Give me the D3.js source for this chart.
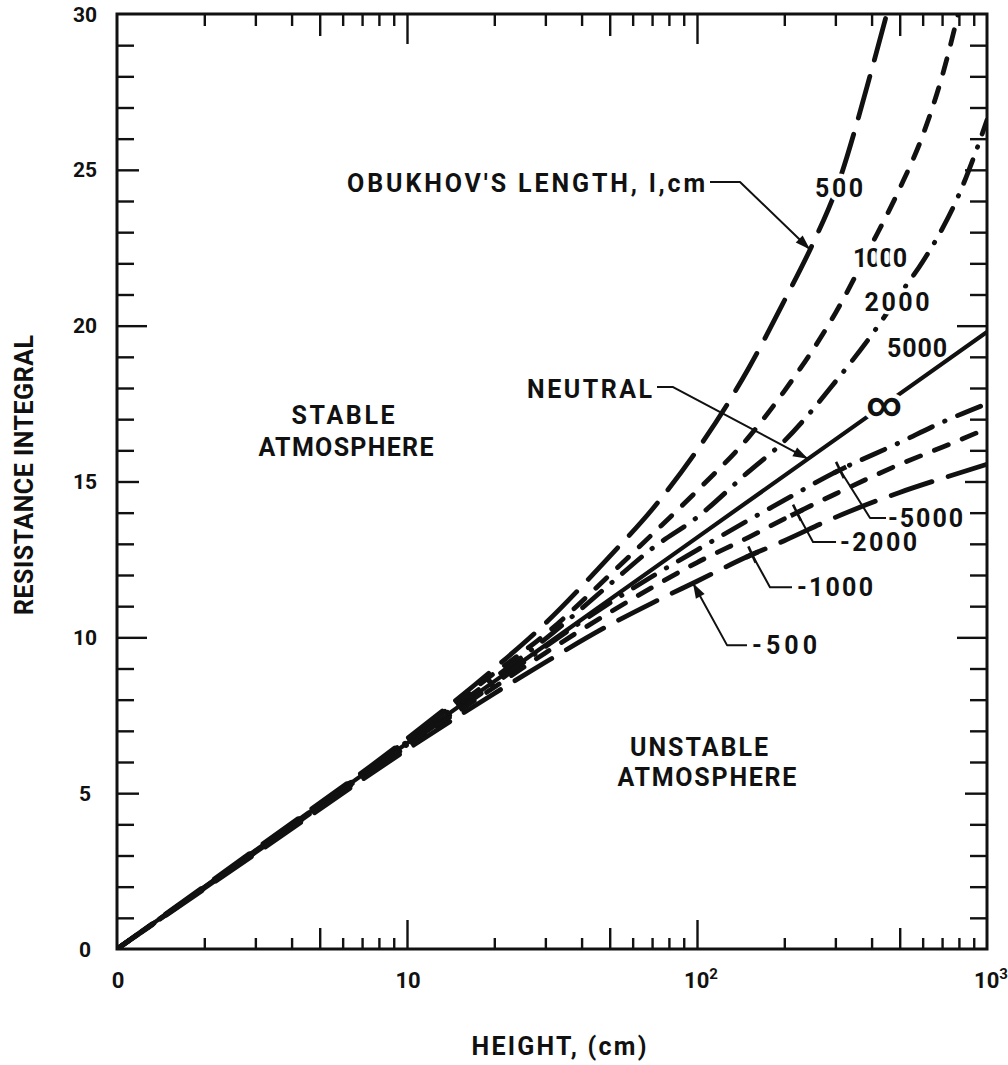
<!DOCTYPE html>
<html>
<head>
<meta charset="utf-8">
<script src="https://cdn.jsdelivr.net/npm/d3@7"></script>
<style>
  html, body { margin: 0; padding: 0; background: #fff; }
  svg { display: block; }
  text { font-family: Roboto, "DejaVu Sans", sans-serif; font-weight: 700; fill: #111; }
</style>
</head>
<body>
<svg id="chart" width="1008" height="1065"></svg>
<script>
// Resistance integral vs. height for several Obukhov lengths (cm)

// Stable atmosphere, L = 500 cm
const heights500 = [1, 3, 10, 20, 30, 50, 70, 100, 150, 200, 250, 300, 400, 460];
const resistance500 = [0, 3.2, 6.75, 9.0, 10.45, 12.6, 14.1, 16.0, 18.6, 20.8, 22.6, 24.3, 28.2, 30.3];

// Stable atmosphere, L = 1000 cm
const heights1000 = [1, 3, 10, 20, 30, 50, 70, 100, 150, 200, 300, 400, 500, 600, 700, 800];
const resistance1000 = [0, 3.15, 6.7, 8.85, 10.1, 12.0, 13.3, 14.7, 16.4, 17.9, 20.4, 22.6, 24.4, 26.1, 28.0, 30.1];

// Stable atmosphere, L = 2000 cm
const heights2000 = [1, 3, 10, 20, 30, 50, 70, 100, 150, 200, 300, 400, 500, 600, 700, 800, 900, 1000];
const resistance2000 = [0, 3.15, 6.65, 8.7, 9.95, 11.7, 12.85, 13.85, 15.3, 16.3, 18.2, 19.7, 21.0, 22.05, 23.1, 24.2, 25.4, 26.6];

// Neutral (L = infinity); L = 5000 cm runs along the same line
const heightsNeutral = [1, 10, 100, 1000];
const resistanceNeutral = [0, 6.6, 13.2, 19.8];

// Unstable atmosphere, L = -5000 cm
const heightsU5000 = [1, 3, 10, 20, 30, 50, 70, 100, 150, 200, 300, 500, 700, 1000];
const resistanceU5000 = [0, 3.1, 6.55, 8.5, 9.7, 11.1, 11.95, 12.8, 13.75, 14.4, 15.3, 16.25, 16.9, 17.5];

// Unstable atmosphere, L = -2000 cm
const heightsU2000 = [1, 3, 10, 20, 30, 50, 70, 100, 150, 200, 300, 500, 700, 1000];
const resistanceU2000 = [0, 3.1, 6.5, 8.4, 9.5, 10.8, 11.6, 12.4, 13.2, 13.8, 14.6, 15.55, 16.1, 16.7];

// Unstable atmosphere, L = -1000 / -500 cm
const heightsU1000 = [1, 3, 10, 20, 30, 50, 70, 100, 150, 200, 300, 500, 700, 1000];
const resistanceU1000 = [0, 3.05, 6.4, 8.2, 9.2, 10.4, 11.1, 11.8, 12.6, 13.1, 13.85, 14.65, 15.1, 15.55];

// Axis ticks
const xTickValues = [1, 10, 100, 1000];
const xTickBase = ["0", "10", "10", "10"];
const xTickExp = ["", "", "2", "3"];
const yTickValues = [0, 5, 10, 15, 20, 25, 30];

// ---------------------------------------------------------------
const svg = d3.select("#chart");
const W = 1008, H = 1065;
const plot = { left: 117, right: 987, top: 14, bottom: 949 };

const x = d3.scaleLog().domain([1, 1000]).range([plot.left, plot.right]);
const y = d3.scaleLinear().domain([0, 30]).range([plot.bottom, plot.top]);

svg.append("rect").attr("width", W).attr("height", H).attr("fill", "#fff");

const INK = "#111";

const dashes = {
  solid: null,
  long: "43,17",
  short: "15,15",
  dashDot: "25,13.5,0.5,13.5"
};

const curves = [
  { name: "500", h: heights500, v: resistance500, dash: dashes.long, w: 4.8 },
  { name: "1000", h: heights1000, v: resistance1000, dash: dashes.short, w: 4.8 },
  { name: "2000", h: heights2000, v: resistance2000, dash: dashes.dashDot, w: 4.8 },
  { name: "neutral", h: heightsNeutral, v: resistanceNeutral, dash: dashes.solid, w: 4.2 },
  { name: "-5000", h: heightsU5000, v: resistanceU5000, dash: dashes.dashDot, w: 4.8 },
  { name: "-2000", h: heightsU2000, v: resistanceU2000, dash: dashes.short, w: 4.8 },
  { name: "-1000", h: heightsU1000, v: resistanceU1000, dash: dashes.long, w: 4.8 }
];
const curveByName = Object.fromEntries(curves.map(c => [c.name, c]));

// value on a curve at height z (linear in log height)
function valueAt(curve, z) {
  const lz = Math.log10(z);
  for (let i = 0; i < curve.h.length - 1; i++) {
    const a = Math.log10(curve.h[i]), b = Math.log10(curve.h[i + 1]);
    if (lz >= a && lz <= b) {
      const t = (lz - a) / (b - a);
      return curve.v[i] + t * (curve.v[i + 1] - curve.v[i]);
    }
  }
  return curve.v[curve.v.length - 1];
}
const P = (z, v) => [x(z), y(v)];
const onCurve = (name, z) => P(z, valueAt(curveByName[name], z));

// ---------------- curves ----------------
svg.append("clipPath").attr("id", "plotClip")
  .append("rect")
  .attr("x", plot.left).attr("y", plot.top)
  .attr("width", plot.right - plot.left).attr("height", plot.bottom - plot.top);

const line = d3.line()
  .x(d => x(d[0]))
  .y(d => y(d[1]))
  .curve(d3.curveMonotoneX);

const gCurves = svg.append("g").attr("clip-path", "url(#plotClip)");
gCurves.selectAll("path")
  .data(curves)
  .join("path")
  .attr("d", c => line(c.h.map((h, i) => [h, c.v[i]])))
  .attr("fill", "none")
  .attr("stroke", INK)
  .attr("stroke-width", c => c.w)
  .attr("stroke-linecap", "round")
  .attr("stroke-linejoin", "round")
  .attr("stroke-dasharray", c => c.dash);

// ---------------- axes ----------------
const decades = [1, 10, 100];
const xMinor = [], xFive = [], xDecade = [10, 100];
decades.forEach(d => {
  for (let m = 2; m <= 9; m++) (m === 5 ? xFive : xMinor).push(d * m);
});
const yMinor = d3.range(1, 30).filter(v => v % 5 !== 0);
const yFive = [5, 15, 25];
const yTen = [10, 20];

function tickGroup(axis, transform) {
  const g = svg.append("g").attr("transform", transform).call(axis);
  g.select(".domain").remove();
  g.selectAll(".tick line").attr("stroke", INK).attr("stroke-width", 2.4);
  g.selectAll(".tick text").remove();
  return g;
}

[[xMinor, 11], [xFive, 21], [xDecade, 29]].forEach(([vals, len]) => {
  tickGroup(d3.axisBottom(x).tickValues(vals).tickSize(-len), `translate(0,${plot.bottom})`);
  tickGroup(d3.axisTop(x).tickValues(vals).tickSize(-(len + 1)), `translate(0,${plot.top})`);
});
[[yMinor, 17], [yFive, 22], [yTen, 30]].forEach(([vals, len]) => {
  tickGroup(d3.axisLeft(y).tickValues(vals).tickSize(-len), `translate(${plot.left},0)`);
  tickGroup(d3.axisRight(y).tickValues(vals).tickSize(-len), `translate(${plot.right},0)`);
});

svg.append("rect")
  .attr("x", plot.left).attr("y", plot.top)
  .attr("width", plot.right - plot.left).attr("height", plot.bottom - plot.top)
  .attr("fill", "none").attr("stroke", INK).attr("stroke-width", 3);

// tick labels
const xLab = svg.append("g").attr("font-size", 22);
xTickValues.forEach((t, i) => {
  const txt = xLab.append("text")
    .attr("x", x(t) + (xTickExp[i] ? 4 : 1))
    .attr("y", 988)
    .attr("text-anchor", "middle");
  txt.append("tspan").text(xTickBase[i]);
  if (xTickExp[i]) {
    txt.append("tspan").attr("dy", -9).attr("font-size", 15).text(xTickExp[i]);
  }
});

svg.append("g").attr("font-size", 21)
  .selectAll("text")
  .data(yTickValues)
  .join("text")
  .attr("x", 85)
  .attr("y", d => y(d))
  .attr("dy", "0.36em")
  .attr("text-anchor", "middle")
  .text(d => d);

// axis titles
svg.append("text")
  .attr("x", 559).attr("y", 1046).attr("dy", "0.36em")
  .attr("text-anchor", "middle").attr("font-size", 25)
  .attr("textLength", 175).attr("lengthAdjust", "spacing")
  .text("HEIGHT, (cm)");

svg.append("text")
  .attr("transform", "translate(24,475) rotate(-90)")
  .attr("dy", "0.36em")
  .attr("text-anchor", "middle").attr("font-size", 25)
  .attr("textLength", 280).attr("lengthAdjust", "spacing")
  .text("RESISTANCE INTEGRAL");

// ---------------- annotations ----------------
const gAnn = svg.append("g");

function label(text, z, v, opts = {}) {
  const t = gAnn.append("text")
    .attr("x", x(z)).attr("y", y(v)).attr("dy", "0.36em")
    .attr("text-anchor", opts.anchor || "middle")
    .attr("font-size", opts.size || 25)
    .text(text);
  if (opts.width) t.attr("textLength", opts.width).attr("lengthAdjust", "spacing");
  if (opts.halo) {
    t.attr("stroke", "#fff").attr("stroke-width", opts.halo)
      .attr("paint-order", "stroke").attr("stroke-linejoin", "round");
  }
  return t;
}

function leader(points, arrow) {
  gAnn.append("path")
    .attr("d", d3.line()(points))
    .attr("fill", "none").attr("stroke", INK).attr("stroke-width", 2)
    .attr("stroke-linejoin", "round");
  if (arrow) {
    const [x1, y1] = points[points.length - 2];
    const [x2, y2] = points[points.length - 1];
    const a = Math.atan2(y2 - y1, x2 - x1);
    const L = 15, hw = 5;
    const bx = x2 - L * Math.cos(a), by = y2 - L * Math.sin(a);
    const nx = -Math.sin(a) * hw, ny = Math.cos(a) * hw;
    gAnn.append("path")
      .attr("d", `M${x2},${y2}L${bx + nx},${by + ny}L${bx - nx},${by - ny}Z`)
      .attr("fill", INK);
  }
}

function cross(name, z) {
  const [cx, cy] = onCurve(name, z);
  const [ax, ay] = onCurve(name, z / 1.1);
  const [bx, by] = onCurve(name, z * 1.1);
  const a = Math.atan2(by - ay, bx - ax) + Math.PI / 2;
  const r = 9;
  gAnn.append("line")
    .attr("x1", cx - r * Math.cos(a)).attr("y1", cy - r * Math.sin(a))
    .attr("x2", cx + r * Math.cos(a)).attr("y2", cy + r * Math.sin(a))
    .attr("stroke", INK).attr("stroke-width", 2.6);
  gAnn.append("line")
    .attr("x1", cx - 7 * Math.cos(a - Math.PI / 2)).attr("y1", cy - 7 * Math.sin(a - Math.PI / 2))
    .attr("x2", cx + 7 * Math.cos(a - Math.PI / 2)).attr("y2", cy + 7 * Math.sin(a - Math.PI / 2))
    .attr("stroke", INK).attr("stroke-width", 4.8);
  return [cx, cy];
}

// stable-side curve labels (sitting on their curves)
label("500", 309, 24.41, { width: 48, halo: 9 });
label("1000", 428, 22.17, { width: 54, halo: 9 });
label("2000", 489.5, 20.76, { width: 65, halo: 7 });
label("5000", 573.6, 19.28, { width: 60 });
label("\u221E", 441.5, 17.42, { size: 34, halo: 9 }).attr("dy", "0.3em");

// title and its pointer to the L = 500 curve
label("OBUKHOV'S LENGTH, l,cm", 106.6, 24.58, { anchor: "end", width: 358 });
leader([P(110.9, 24.61), P(140.7, 24.61), onCurve("500", 245.3)], true);

// neutral pointer
label("NEUTRAL", 70, 17.97, { anchor: "end", width: 125 });
leader([P(72.8, 18.03), P(82.7, 18.03), onCurve("neutral", 241.4)], true);

// regions
label("STABLE", 6.02, 17.13, { width: 103 });
label("ATMOSPHERE", 6.16, 16.1, { width: 175 });
label("UNSTABLE", 101.6, 6.48, { width: 138 });
label("ATMOSPHERE", 108.2, 5.52, { width: 179 });

// unstable-side markers and labels
const c5 = cross("-5000", 311.2);
leader([c5, P(395.1, 13.83), P(448.5, 13.83)], false);
label("-5000", 455.7, 13.83, { anchor: "start", width: 75 });

const c2 = cross("-2000", 221.2);
leader([c2, P(251.2, 13.06), P(301.6, 13.06)], false);
label("-2000", 311.3, 13.06, { anchor: "start", width: 77 });

const c1 = cross("-1000", 154.8);
leader([c1, P(178.5, 11.61), P(212.6, 11.61)], false);
label("-1000", 221.2, 11.61, { anchor: "start", width: 76 });

leader([P(148.7, 9.75), P(126.9, 9.75), onCurve("-1000", 96.9)], true);
label("-500", 154.8, 9.75, { anchor: "start", width: 65 });
</script>
</body>
</html>
